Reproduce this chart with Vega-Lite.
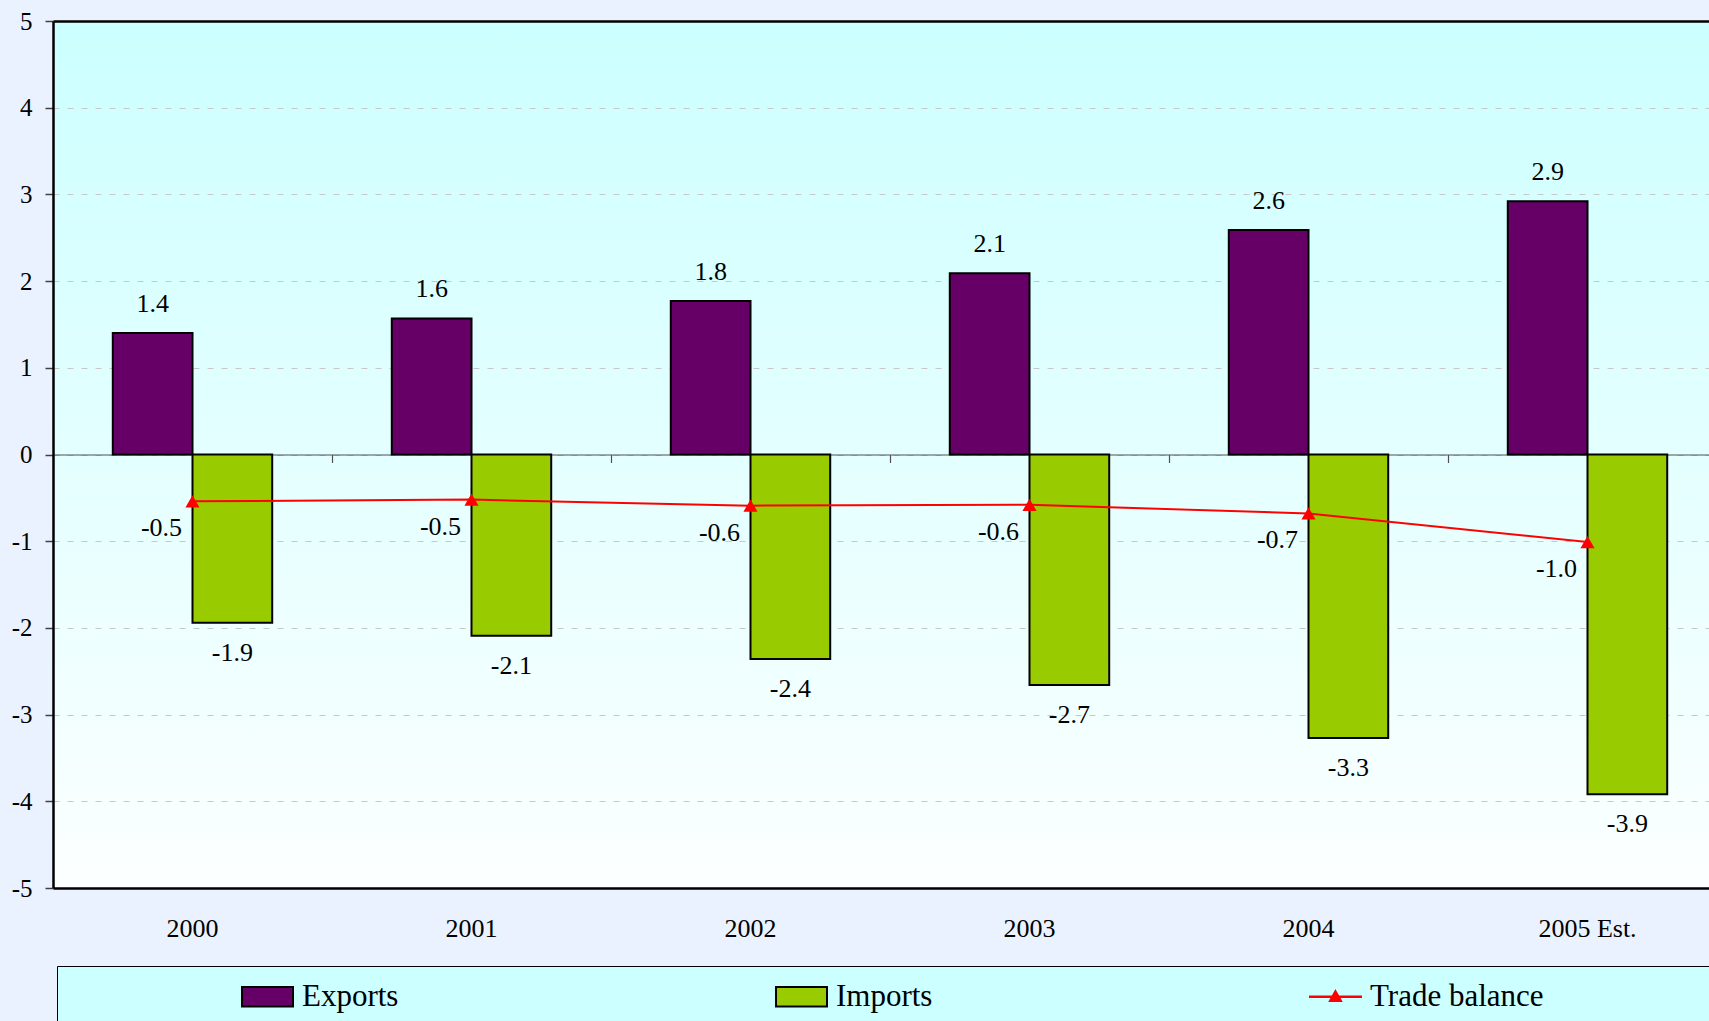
{
  "$schema": "https://vega.github.io/schema/vega-lite/v6.json",
  "width": 1656,
  "height": 867,
  "autosize": "none",
  "padding": {"left": 53, "top": 21, "right": 0, "bottom": 133},
  "background": "#ebf2ff",
  "config": {
    "font": "Liberation Serif",
    "locale": {"number": {"decimal": ".", "thousands": ",", "grouping": [3], "currency": ["$", ""], "minus": "-"}},
    "view": {"stroke": null, "fill": {"gradient": "linear", "x1": 0, "y1": 0, "x2": 0, "y2": 1, "stops": [{"offset": 0, "color": "#ccffff"}, {"offset": 1, "color": "#fcffff"}]}},
    "axis": {"labelFont": "Liberation Serif", "labelColor": "#000000"},
    "axisY": {"labelFont": "Liberation Serif", "labelFontSize": 25, "labelColor": "#000000"},
    "legend": {"symbolOpacity": 1},
    "text": {"font": "Liberation Serif", "fontSize": 26, "color": "#000000"}
  },
  "data": {"values": [
    {"year": "2000", "series": "Exports", "value": 1.40},
    {"year": "2001", "series": "Exports", "value": 1.57},
    {"year": "2002", "series": "Exports", "value": 1.77},
    {"year": "2003", "series": "Exports", "value": 2.09},
    {"year": "2004", "series": "Exports", "value": 2.59},
    {"year": "2005 Est.", "series": "Exports", "value": 2.92},
    {"year": "2000", "series": "Imports", "value": -1.94},
    {"year": "2001", "series": "Imports", "value": -2.09},
    {"year": "2002", "series": "Imports", "value": -2.36},
    {"year": "2003", "series": "Imports", "value": -2.66},
    {"year": "2004", "series": "Imports", "value": -3.27},
    {"year": "2005 Est.", "series": "Imports", "value": -3.92},
    {"year": "2000", "series": "Trade balance", "value": -0.54},
    {"year": "2001", "series": "Trade balance", "value": -0.52},
    {"year": "2002", "series": "Trade balance", "value": -0.59},
    {"year": "2003", "series": "Trade balance", "value": -0.58},
    {"year": "2004", "series": "Trade balance", "value": -0.68},
    {"year": "2005 Est.", "series": "Trade balance", "value": -1.01}
  ]},
  "resolve": {"axis": {"x": "independent"}},
  "layer": [
    {
      "transform": [{"filter": "datum.series !== 'Trade balance'"}],
      "mark": {"type": "bar", "stroke": "#000000", "strokeWidth": 2},
      "encoding": {
        "x": {"field": "year", "type": "nominal", "sort": null, "title": null,
              "scale": {"range": [0, 1674], "paddingInner": 0, "paddingOuter": 0},
              "axis": {"orient": "bottom", "domain": true, "domainColor": "#000000", "domainWidth": 2.5, "ticks": false, "tickSize": 0, "labelPadding": 48, "labelBaseline": "alphabetic", "labelFont": "Liberation Serif", "labelFontSize": 26, "labelAngle": 0, "grid": false}},
        "xOffset": {"field": "series", "scale": {"paddingInner": 0, "paddingOuter": 0.75}},
        "y": {"field": "value", "type": "quantitative", "title": null,
              "scale": {"domain": [-5, 5], "nice": false},
              "axis": {"values": [-5, -4, -3, -2, -1, 0, 1, 2, 3, 4, 5], "format": "d", "labelFont": "Liberation Serif", "labelFontSize": 25, "labelColor": "#000000", "labelPadding": 13, "tickSize": 8, "tickColor": "#404040", "tickWidth": 1.5, "domainColor": "#000000", "domainWidth": 2.5, "grid": true, "gridColor": "#c8c8c8", "gridDash": [6, 8], "gridWidth": 1.2}},
        "color": {"field": "series", "type": "nominal",
                  "scale": {"domain": ["Exports", "Imports", "Trade balance", " "], "range": ["#660066", "#99cc00", "#ff0000", "transparent"]},
                  "legend": {
                    "orient": "none", "legendX": 4, "legendY": 945,
                    "direction": "horizontal", "columns": 4, "gridAlign": "all", "columnPadding": 296,
                    "padding": 4, "fillColor": "#ccffff", "strokeColor": "#000000",
                    "title": ".", "titleOrient": "left", "titleFontSize": 60, "titleColor": "transparent", "titlePadding": 165,
                    "labelFont": "Liberation Serif", "labelFontSize": 31, "labelColor": "#000000", "labelLimit": 400, "labelOffset": 8,
                    "symbolSize": 2601, "symbolStrokeWidth": 2
                  }}
      }
    },
    {
      "transform": [{"filter": "datum.series === 'Trade balance'"}],
      "mark": {"type": "point", "opacity": 0},
      "encoding": {
        "x": {"field": "year", "type": "nominal", "sort": null, "title": null, "axis": null},
        "y": {"field": "value", "type": "quantitative", "title": null},
        "shape": {"field": "series", "type": "nominal",
                  "scale": {"domain": ["Exports", "Imports", "Trade balance", " "], "range": ["M-1,-0.38H1V0.38H-1Z", "M-1,-0.38H1V0.38H-1Z", "M-1,-0.01H1V0.01H-1Z M0,-0.22L0.22,0.17L-0.22,0.17Z", "M-1,-0.38H1V0.38H-1Z"]}},
        "stroke": {"field": "series", "type": "nominal",
                   "scale": {"domain": ["Exports", "Imports", "Trade balance", " "], "range": ["#000000", "#000000", "#ff0000", "transparent"]}}
      }
    },
    {
      "transform": [{"filter": "datum.series === 'Trade balance'"}],
      "mark": {"type": "line", "strokeWidth": 2, "color": "#ff0000"},
      "encoding": {
        "x": {"field": "year", "type": "nominal", "sort": null, "title": null,
              "axis": {"orient": "top", "domain": true, "domainColor": "#000000", "domainWidth": 2.5, "labels": false, "ticks": false, "grid": false}},
        "y": {"field": "value", "type": "quantitative", "title": null}
      }
    },
    {
      "transform": [{"filter": "datum.series === 'Trade balance'"}],
      "mark": {"type": "point", "shape": "triangle-up", "filled": true, "size": 200, "color": "#ff0000", "opacity": 1},
      "encoding": {
        "x": {"field": "year", "type": "nominal", "sort": null, "title": null,
              "axis": {"orient": "bottom", "offset": -433.5, "domain": true, "domainColor": "#505050", "domainWidth": 1.2, "ticks": true, "tickBand": "extent", "tickSize": 8, "tickColor": "#505050", "tickWidth": 1.2, "labels": false, "grid": false}},
        "y": {"field": "value", "type": "quantitative", "title": null}
      }
    },
    {
      "transform": [{"filter": "datum.series === 'Exports'"}],
      "mark": {"type": "text", "baseline": "alphabetic", "align": "center", "dy": -21, "fontSize": 26},
      "encoding": {
        "x": {"field": "year", "type": "nominal", "sort": null, "title": null, "axis": null},
        "xOffset": {"field": "series"},
        "y": {"field": "value", "type": "quantitative", "title": null},
        "text": {"field": "value", "type": "quantitative", "format": ".1f"}
      }
    },
    {
      "transform": [{"filter": "datum.series === 'Imports'"}],
      "mark": {"type": "text", "baseline": "alphabetic", "align": "center", "dy": 38, "fontSize": 26},
      "encoding": {
        "x": {"field": "year", "type": "nominal", "sort": null, "title": null, "axis": null},
        "xOffset": {"field": "series"},
        "y": {"field": "value", "type": "quantitative", "title": null},
        "text": {"field": "value", "type": "quantitative", "format": ".1f"}
      }
    },
    {
      "transform": [{"filter": "datum.series === 'Trade balance'"}],
      "mark": {"type": "text", "baseline": "alphabetic", "align": "center", "dx": -31, "dy": 35, "fontSize": 26},
      "encoding": {
        "x": {"field": "year", "type": "nominal", "sort": null, "title": null, "axis": null},
        "y": {"field": "value", "type": "quantitative", "title": null},
        "text": {"field": "value", "type": "quantitative", "format": ".1f"}
      }
    }
  ]
}
